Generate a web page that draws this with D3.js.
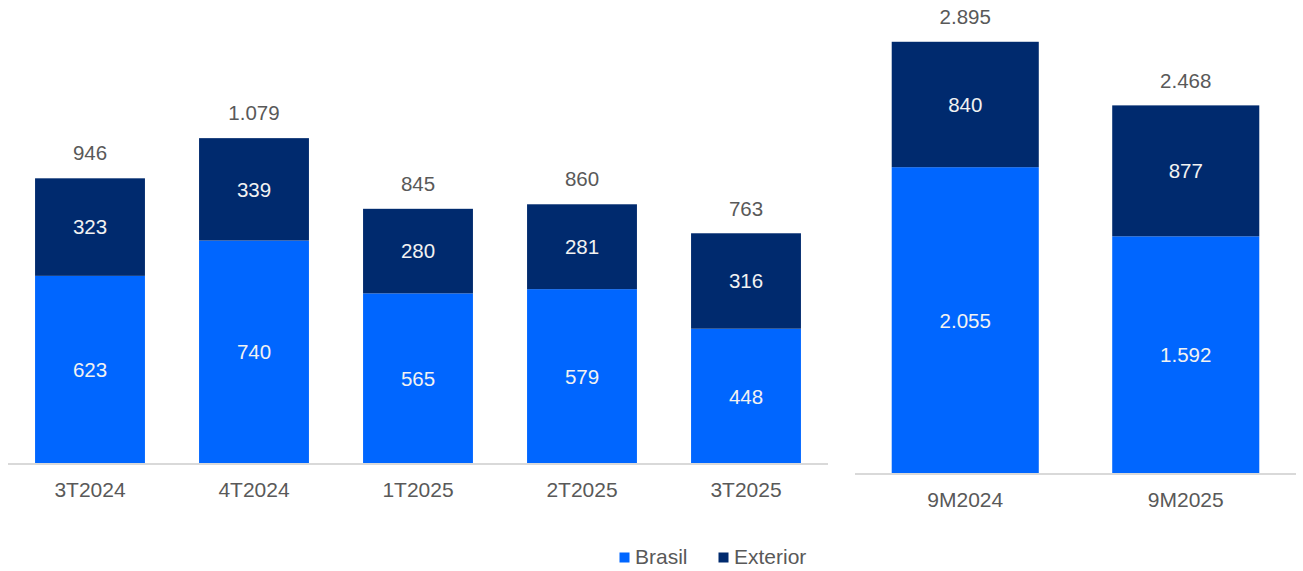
<!DOCTYPE html>
<html>
<head>
<meta charset="utf-8">
<script src="https://cdn.jsdelivr.net/npm/d3@7"></script>
<style>
  html, body { margin: 0; padding: 0; background: #fff; }
  svg { display: block; font-family: "Liberation Sans", Arial, sans-serif; }
</style>
</head>
<body>
<svg id="chart" width="1303" height="571"></svg>
<script>
// Data
const quarters = ["3T2024", "4T2024", "1T2025", "2T2025", "3T2025"];
const quarterBrasil = [623, 740, 565, 579, 448];
const quarterExterior = [323, 339, 280, 281, 316];
const quarterTotal = [946, 1079, 845, 860, 763];

const periods = ["9M2024", "9M2025"];
const periodBrasil = [2055, 1592];
const periodExterior = [840, 877];
const periodTotal = [2895, 2468];

const seriesNames = ["Brasil", "Exterior"];
const colors = ["#0066ff", "#002a6e"];

const fmt = v => d3.format(",")(v).replace(/,/g, ".");

const svg = d3.select("#chart");

function panel(cats, brasil, exterior, total, opts) {
  const x = d3.scaleBand().domain(cats).range(opts.xRange).paddingInner(opts.padInner).paddingOuter(opts.padOuter);
  const y = d3.scaleLinear().domain([0, opts.yMax]).range([opts.base, opts.top]);
  const g = svg.append("g");
  const rows = cats.map((c, i) => ({ cat: c, Brasil: brasil[i], Exterior: exterior[i], total: total[i] }));
  const stack = d3.stack().keys(seriesNames)(rows);

  stack.forEach((layer, li) => {
    g.selectAll(null).data(layer).enter().append("rect")
      .attr("x", d => x(d.data.cat))
      .attr("width", x.bandwidth())
      .attr("y", d => y(d[1]))
      .attr("height", d => y(d[0]) - y(d[1]))
      .attr("fill", colors[li]);
    g.selectAll(null).data(layer).enter().append("text")
      .attr("x", d => x(d.data.cat) + x.bandwidth() / 2)
      .attr("y", d => (y(d[0]) + y(d[1])) / 2)
      .attr("dy", "0.35em")
      .attr("text-anchor", "middle")
      .attr("fill", "#f2f2f2")
      .attr("font-size", 20.5)
      .text(d => fmt(d.data[seriesNames[li]]));
  });

  g.selectAll(null).data(rows).enter().append("text")
    .attr("x", d => x(d.cat) + x.bandwidth() / 2)
    .attr("y", d => y(d.total) - 25)
    .attr("dy", "0.35em")
    .attr("text-anchor", "middle")
    .attr("fill", "#595959")
    .attr("font-size", 20.5)
    .text(d => fmt(d.total));

  const axis = g.append("g").attr("transform", `translate(0,${opts.base})`)
    .call(d3.axisBottom(x).tickSize(0).tickPadding(18));
  axis.select(".domain").attr("stroke", "#d9d9d9").attr("stroke-width", 2)
    .attr("d", `M${opts.xRange[0]},0H${opts.xRange[1]}`);
  axis.selectAll("text").attr("fill", "#595959").attr("font-size", 21)
    .attr("font-family", "Liberation Sans, Arial, sans-serif");
}

// left panel: 946 spans ~285.7px
panel(quarters, quarterBrasil, quarterExterior, quarterTotal, {
  xRange: [8, 828], padInner: 0.33, padOuter: 0.165,
  base: 464, top: 464 - 1200 * 0.302, yMax: 1200
});
// right panel: 2895 spans ~432px
panel(periods, periodBrasil, periodExterior, periodTotal, {
  xRange: [855, 1296], padInner: 0.333, padOuter: 0.1665,
  base: 474, top: 474 - 3000 * 0.1493, yMax: 3000
});

// legend
const legend = svg.append("g");
const legendX = [619.5, 718.5];
seriesNames.forEach((name, i) => {
  const lg = legend.append("g").attr("transform", `translate(${legendX[i]},552.5)`);
  lg.append("rect").attr("width", 10).attr("height", 10).attr("fill", colors[i]);
  lg.append("text").attr("x", 15.5).attr("y", 4.5).attr("dy", "0.35em")
    .attr("fill", "#595959").attr("font-size", 21).text(name);
});
</script>
</body>
</html>
